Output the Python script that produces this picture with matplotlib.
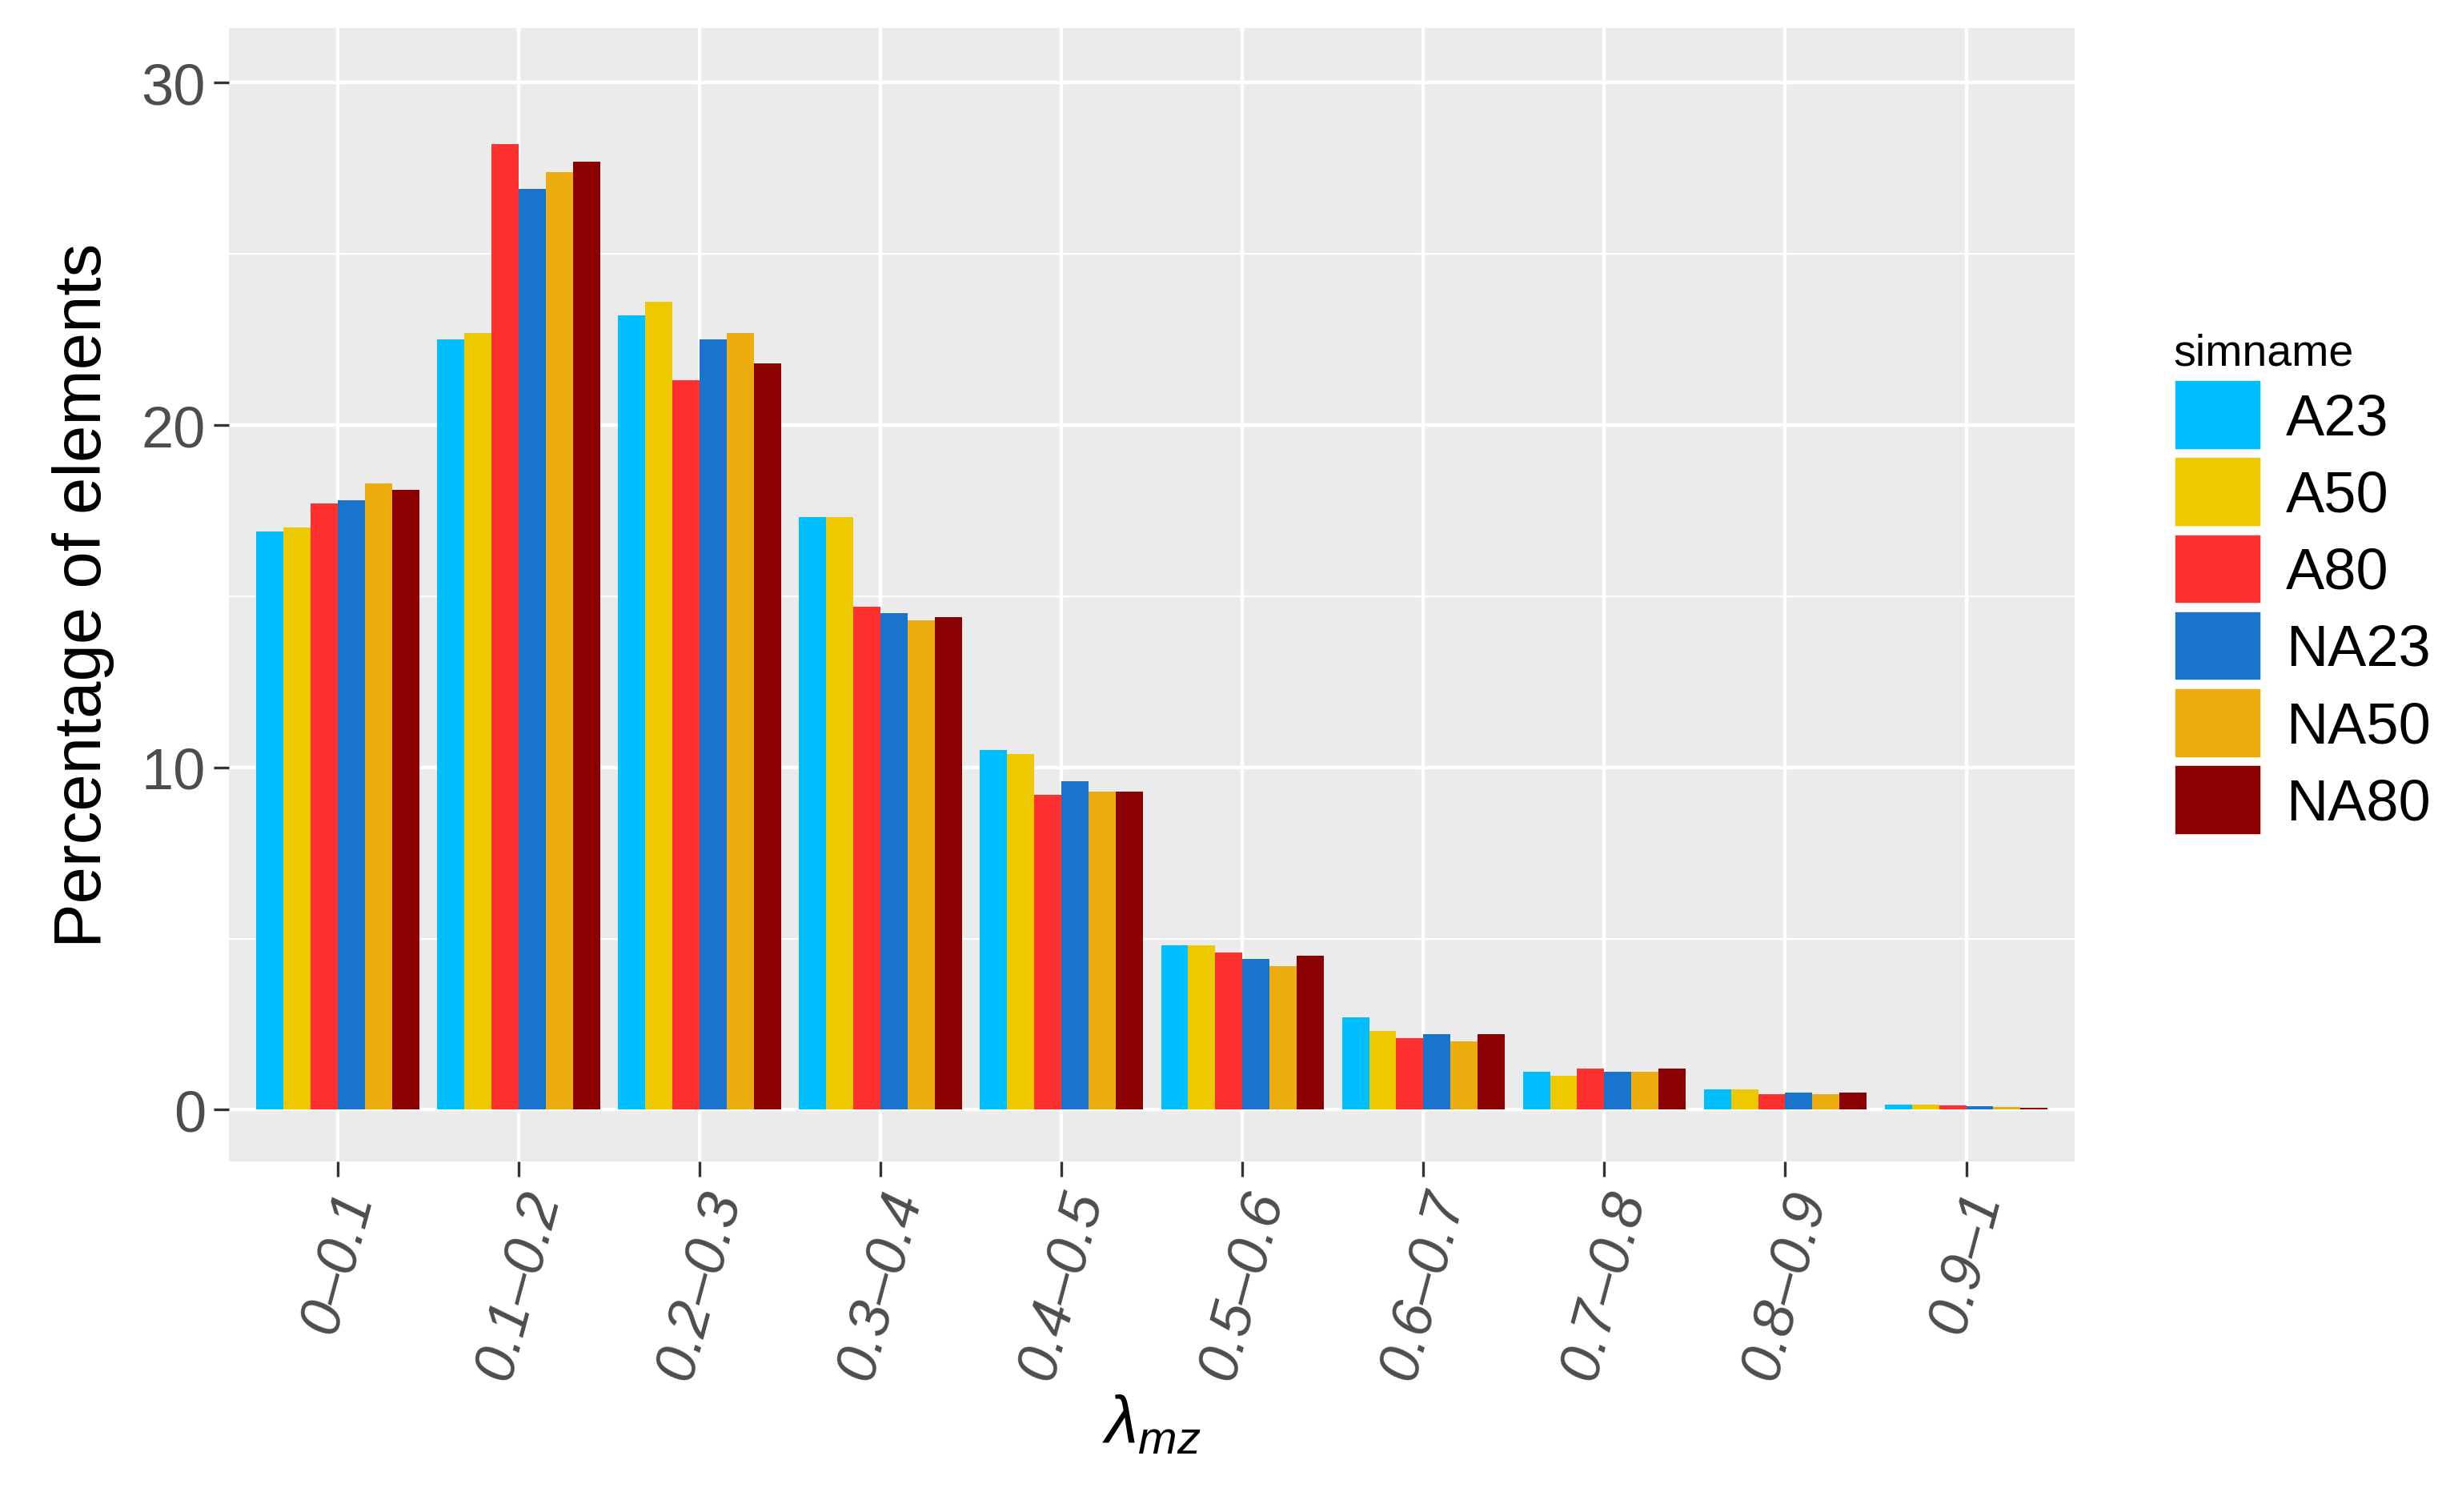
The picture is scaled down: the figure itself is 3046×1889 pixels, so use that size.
import matplotlib
matplotlib.use("Agg")
import matplotlib.pyplot as plt
import numpy as np
from matplotlib.patches import Patch

plt.rcParams['font.family'] = ['Liberation Sans', 'DejaVu Sans']
plt.rcParams['mathtext.fontset'] = 'custom'
plt.rcParams['mathtext.rm'] = 'Liberation Sans'
plt.rcParams['mathtext.it'] = 'Liberation Sans:italic'

categories = ["0–0.1","0.1–0.2","0.2–0.3","0.3–0.4","0.4–0.5","0.5–0.6","0.6–0.7","0.7–0.8","0.8–0.9","0.9–1"]
series = ["A23","A50","A80","NA23","NA50","NA80"]
colors = ["#00BFFF","#EEC900","#FF3030","#1874CD","#EEAD0E","#8B0000"]
A23  = [16.9,22.5,23.2,17.3,10.5,4.8,2.7,1.1,0.6,0.15]
A50  = [17.0,22.7,23.6,17.3,10.4,4.8,2.3,1.0,0.6,0.15]
A80  = [17.7,28.2,21.3,14.7,9.2,4.6,2.1,1.2,0.45,0.12]
NA23 = [17.8,26.9,22.5,14.5,9.6,4.4,2.2,1.1,0.5,0.1]
NA50 = [18.3,27.4,22.7,14.3,9.3,4.2,2.0,1.1,0.45,0.08]
NA80 = [18.1,27.7,21.8,14.4,9.3,4.5,2.2,1.2,0.5,0.05]
data = [A23,A50,A80,NA23,NA50,NA80]

fig = plt.figure(figsize=(15.23,9.45), dpi=200)
ax = fig.add_axes([0.094,0.232,0.757,0.749])
ax.set_facecolor("#EBEBEB")
x = np.arange(1,len(categories)+1)
w = 0.9/6
for i,(s,c,d) in enumerate(zip(series,colors,data)):
    ax.bar(x-0.45+w*(i+0.5), d, width=w, color=c, zorder=3)
ax.set_xlim(0.4,10.6)
ax.set_ylim(-1.5,31.6)
ax.set_yticks([0,10,20,30])
ax.set_yticks([5,15,25], minor=True)
ax.set_xticks(x)
ax.set_xticklabels(categories, rotation=75, ha="center", va="top", fontsize=26, color="#4D4D4D", style="italic")
ax.tick_params(axis="y", labelsize=26, labelcolor="#4D4D4D", color="#333333", length=7, width=1.2)
ax.tick_params(axis="y", which="minor", length=0)
ax.tick_params(axis="x", color="#333333", length=7, width=1.2)
ax.grid(True, which="major", color="white", linewidth=1.6, zorder=0)
ax.grid(True, which="minor", axis="y", color="white", linewidth=0.8, zorder=0)
ax.set_axisbelow(True)
for sp in ax.spines.values():
    sp.set_visible(False)
ax.set_ylabel("Percentage of elements", fontsize=30, labelpad=12)
ax.set_xlabel(r"$\lambda_{mz}$", fontsize=30, labelpad=4)
handles = [Patch(facecolor=c, edgecolor="white", linewidth=2, label=s) for s,c in zip(series,colors)]
leg = fig.legend(handles=handles, title="simname", loc="upper left", bbox_to_anchor=(0.882,0.795),
                 frameon=False, fontsize=26, title_fontsize=20, handlelength=1.55, handleheight=1.55,
                 labelspacing=0.08, handletextpad=0.4, borderaxespad=0)
leg._legend_box.align = "left"
fig.savefig("out.png", dpi=200)
